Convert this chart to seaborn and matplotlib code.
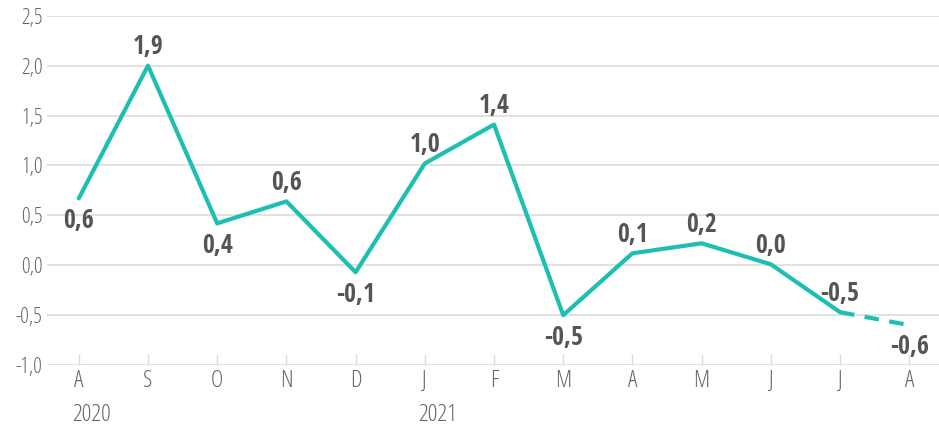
import matplotlib
matplotlib.use("Agg")
from matplotlib import pyplot as plt
from matplotlib.font_manager import FontProperties
import seaborn as sns
import pandas as pd

# data
months = ["A", "S", "O", "N", "D", "J", "F", "M", "A", "M", "J", "J", "A"]
values = [0.67, 2.0, 0.42, 0.64, -0.07, 1.02, 1.41, -0.5, 0.12, 0.22, 0.01, -0.47, -0.6]
labels = ["0,6", "1,9", "0,4", "0,6", "-0,1", "1,0", "1,4", "-0,5", "0,1", "0,2", "0,0", "-0,5", "-0,6"]
label_above = [False, True, False, True, False, True, True, False, True, True, True, True, False]
years = {0: "2020", 5: "2021"}
yticks = [-1.0, -0.5, 0.0, 0.5, 1.0, 1.5, 2.0, 2.5]

df = pd.DataFrame({"pos": range(len(values)), "value": values})

sns.set_theme(style="white")
plt.rcParams["font.family"] = ["Open Sans", "DejaVu Sans"]

light_y = FontProperties(family="Open Sans", stretch="condensed", weight=300, size=15.5)
light_x = FontProperties(family="Open Sans", stretch="condensed", weight=300, size=17)
light_yr = FontProperties(family="Open Sans", stretch="condensed", weight=300, size=17.5)
bold = FontProperties(family="Open Sans Condensed", stretch="condensed", weight=700, size=18.5)

teal = "#1dbfb1"
fig = plt.figure(figsize=(9.39, 4.26), dpi=100)
ax = fig.add_axes([0.05, 0.143, 0.95, 0.82])

sns.lineplot(data=df.iloc[:-1], x="pos", y="value", color=teal, linewidth=3, ax=ax)
sns.lineplot(data=df.iloc[-2:], x="pos", y="value", color=teal, linewidth=3,
             linestyle=(0, (3.5, 2.5)), ax=ax)

for i, (v, t, up) in enumerate(zip(values, labels, label_above)):
    ax.annotate(t, (i, v), xytext=(0, 4 if up else -6), textcoords="offset points",
                ha="center", va="bottom" if up else "top",
                fontproperties=bold, color="#555555")

ax.set_ylim(-1.0, 2.5)
ax.set_xlim(-0.46, 12.43)
ax.set_yticks(yticks)
ax.set_yticklabels([f"{y:.1f}".replace(".", ",") for y in yticks], fontproperties=light_y)
ax.set_xticks(range(len(months)))
ax.set_xticklabels(months, fontproperties=light_x)
ax.grid(axis="y", color="#dddddd", linewidth=1.2)
ax.set_axisbelow(True)
for s in ["top", "right", "left", "bottom"]:
    ax.spines[s].set_visible(False)
ax.tick_params(axis="y", length=0, labelcolor="#666666", pad=3)
ax.tick_params(axis="x", direction="in", length=8, width=1, color="#dddddd",
               labelcolor="#666666", pad=3, bottom=True)
ax.set_xlabel("")
ax.set_ylabel("")

# year labels start at the left edge of the month label
for i, yr in years.items():
    ax.annotate(yr, (i, -1.0), xytext=(-5, -27), textcoords="offset points",
                ha="left", va="top", fontproperties=light_yr, color="#666666",
                annotation_clip=False)

fig.savefig("out.png", dpi=100)
